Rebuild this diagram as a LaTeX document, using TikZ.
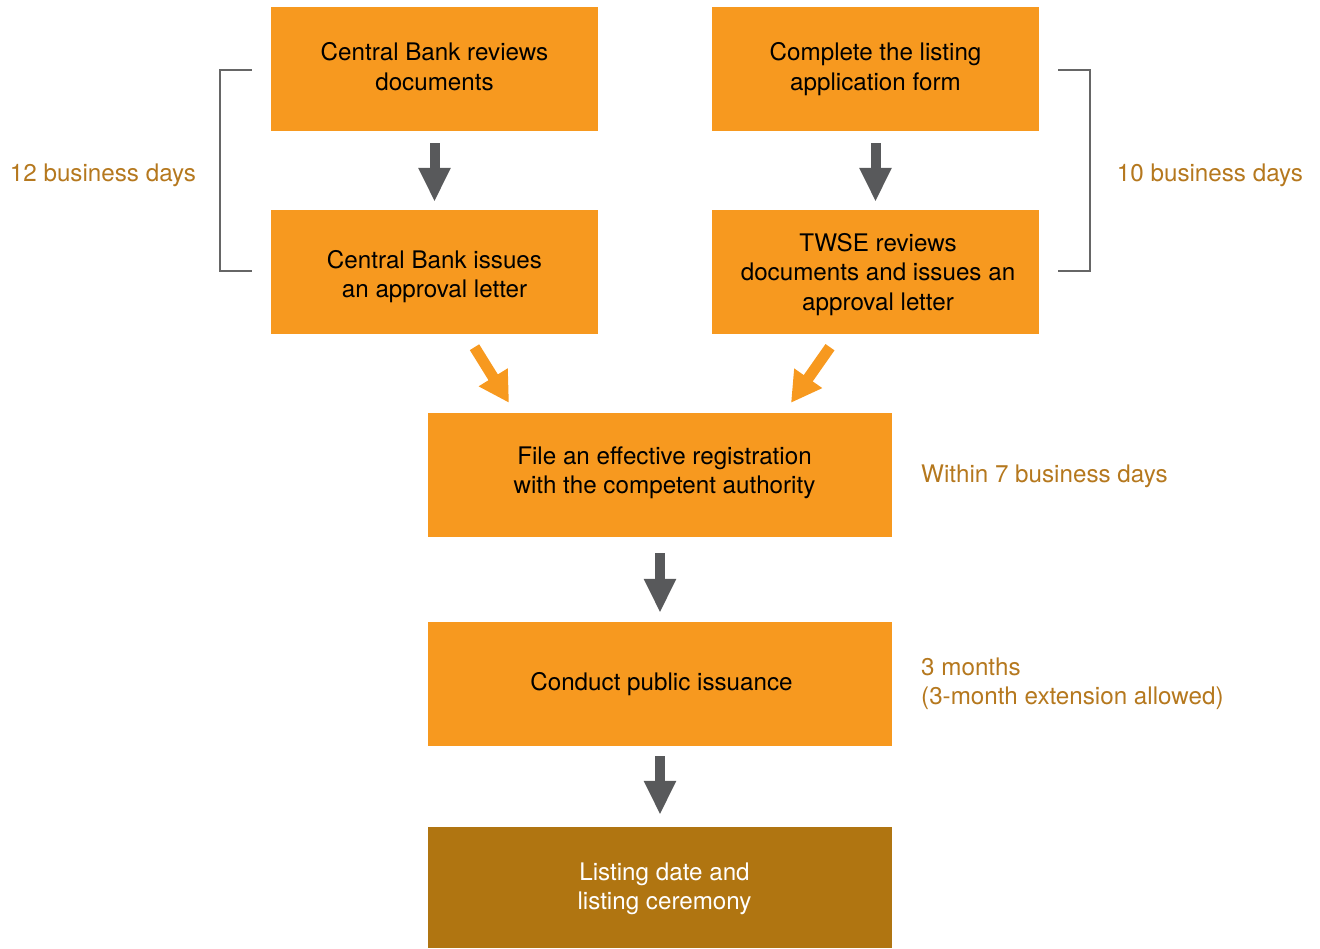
\documentclass[tikz,border=0pt]{standalone}
\usepackage{fontspec}
\setmainfont{TeX Gyre Heros}
\usetikzlibrary{arrows.meta}
\definecolor{boxorange}{HTML}{F7991F}
\definecolor{boxbrown}{HTML}{B07511}
\definecolor{arrgray}{HTML}{58595B}
\definecolor{lblgold}{HTML}{B5781E}
\definecolor{brgray}{HTML}{666666}
% #1: twice the shift to the right, #2: shift upwards of the text block from the box centre, #3: lines
\newcommand\movedlines[3]{\hspace*{#1}\raisebox{\dimexpr#2-8.5pt\relax}[0pt][0pt]{\begin{tabular}{@{}c@{}}#3\end{tabular}}}
\tikzset{
  stepbox/.style={fill=boxorange, draw=none, minimum width=327pt, minimum height=124pt, inner sep=0pt, align=center, text=black, font=\fontsize{24.2}{29.5}\selectfont},
  widebox/.style={stepbox, minimum width=464pt},
  lastbox/.style={widebox, fill=boxbrown, text=white, minimum height=121pt},
  timelabel/.style={text=lblgold, inner sep=0pt, font=\fontsize{24.2}{29.5}\selectfont},
  grayarrow/.style={draw=arrgray, line width=10pt, -{Triangle[width=30pt,length=34pt]}},
  orangearrow/.style={draw=boxorange, line width=11pt, -{Triangle[width=32pt,length=30pt]}},
  bracketline/.style={draw=brgray, line width=2pt},
}
\begin{document}
\begin{tikzpicture}[x=1pt,y=-1pt]
\useasboundingbox (0,0) rectangle (1320,948);

\node[stepbox] (A) at (434.5,69) {\movedlines{0pt}{1.5pt}{Central Bank reviews\\documents}};
\node[stepbox] (B) at (875.5,69) {\movedlines{0pt}{1.5pt}{Complete the listing\\application form}};
\node[stepbox] (C) at (434.5,272) {\movedlines{0pt}{-3pt}{Central Bank issues\\an approval letter}};
\node[stepbox] (D) at (875.5,272) {\movedlines{5pt}{-0.5pt}{TWSE reviews\\documents and issues an\\approval letter}};
\node[widebox] (E) at (660,475) {\movedlines{9pt}{4pt}{File an effective registration\\with the competent authority}};
\node[widebox] (F) at (660,684) {\movedlines{3pt}{2pt}{Conduct public issuance}};
\node[lastbox] (G) at (660,887.5) {\movedlines{9pt}{0.5pt}{Listing date and\\listing ceremony}};

\draw[grayarrow] ([yshift=-12pt]A.south) -- ([yshift=8pt]C.north);
\draw[grayarrow] ([yshift=-12pt]B.south) -- ([yshift=8pt]D.north);
\draw[grayarrow] ([yshift=-16pt]E.south) -- ([yshift=9pt]F.north);
\draw[grayarrow] ([yshift=-10pt]F.south) -- ([yshift=12pt]G.north);

\draw[orangearrow] ([xshift=40pt,yshift=-13pt]C.south) -- ([xshift=-151pt,yshift=10pt]E.north);
\draw[orangearrow] ([xshift=-45.5pt,yshift=-13pt]D.south) -- ([xshift=131pt,yshift=10pt]E.north);

\draw[bracketline] ([xshift=-19pt,yshift=-1pt]A.west) -- ++(-32,0) |- ([xshift=-19pt,yshift=1pt]C.west);
\draw[bracketline] ([xshift=19pt,yshift=-1pt]B.east) -- ++(32,0) |- ([xshift=19pt,yshift=1pt]D.east);

\node[timelabel] (L12) at (103,175) {12 business days};
\node[timelabel] (L10) at (1210,175) {10 business days};
\node[timelabel, anchor=west] (L7) at (921,476) {Within 7 business days};
\node[timelabel, anchor=west, align=left] (L3) at (921,683.5) {3 months\\(3-month extension allowed)};
\end{tikzpicture}
\end{document}
